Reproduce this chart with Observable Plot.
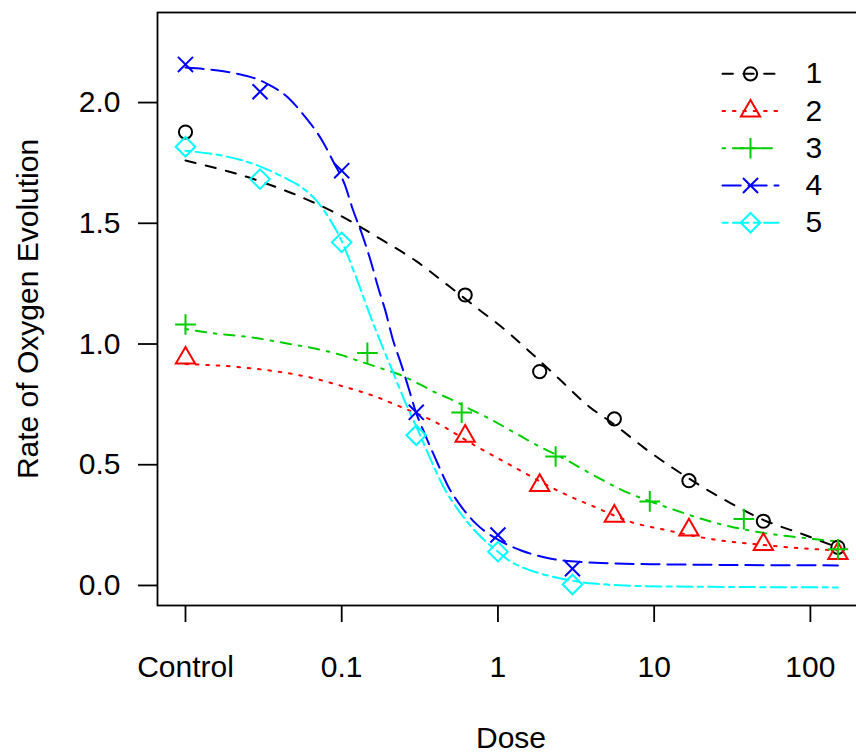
<!DOCTYPE html>
<html><head><meta charset="utf-8">
<script src="https://cdn.jsdelivr.net/npm/d3@7"></script>
<script src="https://cdn.jsdelivr.net/npm/@observablehq/plot@0.6"></script>
<style>
body{margin:0;background:#fff}
#wrap{width:856px;height:752px;overflow:hidden;position:relative}
#wrap svg{display:block;max-width:none !important}
</style>
</head><body><div id="wrap"></div>
<script>
// ---- data ----
const series = ["1", "2", "3", "4", "5"];
const colors = ["#000000", "#FF0000", "#00CD00", "#0000FF", "#00FFFF"];
const dashes = ["10.4,10.4", "2.6,7.8", "2.6,7.8,10.4,7.8", "18.2,7.8", "5.2,5.2,15.6,5.2"];
const symbols = ["circle", "triangle2", "plus", "times", "diamond2"];
const radii = [6.6, 9.2, 6.7, 6.9, 8.8];

const xTicks = [0.01, 0.1, 1, 10, 100];
const xTickLabels = ["Control", "0.1", "1", "10", "100"];
const yTicks = [0, 0.5, 1, 1.5, 2];
const controlAt = 0.01; // where "Control" (dose 0) is drawn

// observed points (dose 0 = control)
const dose12 = [0, 0.617, 1.85, 5.56, 16.7, 50, 150];
const dose3 = [0, 0.146, 0.586, 2.34, 9.375, 37.5, 150];
const dose45 = [0, 0.03, 0.1, 0.3, 1, 3];
const val1 = [1.878, 1.203, 0.886, 0.690, 0.434, 0.266, 0.158];
const val2 = [0.942, 0.618, 0.414, 0.287, 0.230, 0.170, 0.133];
const val3 = [1.081, 0.963, 0.716, 0.534, 0.348, 0.275, 0.150];
const val4 = [2.158, 2.045, 1.718, 0.717, 0.209, 0.069];
const val5 = [1.817, 1.683, 1.421, 0.622, 0.140, 0.004];

// fitted curves
const cDose1 = [0, 0.03, 0.1, 0.178, 0.3, 0.485, 0.78, 1, 1.63, 2.46, 3.78, 5.6, 8.63, 14, 31.2, 46.4, 94, 150];
const cVal1 = [1.760, 1.674, 1.529, 1.434, 1.343, 1.240, 1.136, 1.083, 0.963, 0.856, 0.744, 0.665, 0.570, 0.475, 0.339, 0.281, 0.207, 0.157];
const cDose2 = [0, 0.025, 0.064, 0.1, 0.16, 0.246, 0.383, 0.756, 1.16, 2.65, 4.13, 7.34, 11.6, 26.9, 40.1, 75.5, 150];
const cVal2 = [0.917, 0.901, 0.860, 0.826, 0.785, 0.736, 0.682, 0.570, 0.504, 0.380, 0.326, 0.260, 0.231, 0.186, 0.174, 0.157, 0.145];
const cDose3 = [0, 0.0149, 0.0281, 0.0431, 0.0652, 0.0986, 0.123, 0.183, 0.229, 0.312, 0.401, 0.478, 0.7, 0.863, 1.25, 1.80, 2.65, 3.83, 6.14, 12.8, 25.7, 48.5, 87.5, 150];
const cVal3 = [1.062, 1.045, 1.025, 1.004, 0.983, 0.955, 0.934, 0.897, 0.876, 0.835, 0.798, 0.777, 0.723, 0.694, 0.636, 0.579, 0.525, 0.467, 0.397, 0.318, 0.256, 0.219, 0.198, 0.182];
const cDose4 = [0, 0.0138, 0.0175, 0.0225, 0.029, 0.0341, 0.0451, 0.0571, 0.0755, 0.0889, 0.1045, 0.1177, 0.1364, 0.1535, 0.170, 0.1914, 0.212, 0.239, 0.269, 0.298, 0.340, 0.412, 0.485, 0.570, 0.723, 1, 1.41, 2.04, 2.95, 9.55, 150];
const cVal4 = [2.145, 2.138, 2.130, 2.116, 2.096, 2.074, 2.022, 1.948, 1.839, 1.752, 1.661, 1.558, 1.446, 1.343, 1.240, 1.132, 1.021, 0.921, 0.814, 0.719, 0.628, 0.504, 0.405, 0.335, 0.256, 0.190, 0.145, 0.115, 0.100, 0.088, 0.083];
const cDose5 = [0, 0.0178, 0.0288, 0.0427, 0.055, 0.0676, 0.0851, 0.0977, 0.123, 0.158, 0.182, 0.214, 0.251, 0.309, 0.372, 0.447, 0.575, 0.741, 1, 1.2, 1.41, 1.9, 2.4, 3.1, 4.1, 11.2, 150];
const cVal5 = [1.800, 1.778, 1.740, 1.690, 1.650, 1.600, 1.510, 1.440, 1.28, 1.09, 0.99, 0.88, 0.77, 0.64, 0.52, 0.41, 0.30, 0.215, 0.14, 0.10, 0.077, 0.048, 0.032, 0.018, 0.008, -0.004, -0.008];

// ---- build tables ----
const toRows = (ds, vs) => ds.map((d, i) => ({dose: d === 0 ? controlAt : d, value: vs[i]}));
const points = [
  toRows(dose12, val1), toRows(dose12, val2), toRows(dose3, val3),
  toRows(dose45, val4), toRows(dose45, val5)
];
const curves = [
  toRows(cDose1, cVal1), toRows(cDose2, cVal2), toRows(cDose3, cVal3),
  toRows(cDose4, cVal4), toRows(cDose5, cVal5)
];

// ---- layout ----
const W = 864, H = 752, ML = 157, MT = 12, MB = 147;
const xDomain = [0.00662, 222];
const yDomain = [-0.083, 2.373];
const FS = 30;
const xs = d3.scaleLog().domain(xDomain).range([ML, W]);
const ys = d3.scaleLinear().domain(yDomain).range([H - MB, MT]);

// legend (top right, inside the frame)
const legendMarks = [];
series.forEach((s, i) => {
  const yv = ys.invert(MT + 61.3 + i * 37.25);
  legendMarks.push(
    Plot.line([{x: xs.invert(722), y: yv}, {x: xs.invert(778), y: yv}],
      {x: "x", y: "y", stroke: colors[i], strokeWidth: 2, strokeDasharray: dashes[i]}),
    Plot.dot([{x: xs.invert(750), y: yv}],
      {x: "x", y: "y", symbol: symbols[i], r: radii[i], stroke: colors[i], strokeWidth: 2, fill: "none"}),
    Plot.text([{x: xs.invert(805), y: yv, t: s}],
      {x: "x", y: "y", text: "t", textAnchor: "start", fontSize: FS, fill: "black"})
  );
});

const chart = Plot.plot({
  width: W, height: H,
  marginLeft: ML, marginRight: 0, marginTop: MT, marginBottom: MB,
  style: {fontFamily: "'Liberation Sans', Arial, Helvetica, sans-serif", background: "white", color: "black", overflow: "hidden", maxWidth: "none"},
  x: {type: "log", domain: xDomain},
  y: {domain: yDomain},
  marks: [
    Plot.frame({stroke: "black", strokeWidth: 1.8}),
    Plot.axisX(xTicks, {tickFormat: d => xTickLabels[xTicks.indexOf(d)], tickSize: 17, tickPadding: 33, fontSize: FS, strokeWidth: 1.8, label: null}),
    Plot.axisY(yTicks, {tickFormat: d3.format(".1f"), tickSize: 19, tickPadding: 18, fontSize: FS, strokeWidth: 1.8, label: null}),
    Plot.text(["Dose"], {frameAnchor: "bottom", dy: 142, lineAnchor: "bottom", textAnchor: "middle", fontSize: FS, text: d => d, fill: "black"}),
    Plot.text(["Rate of Oxygen Evolution"], {frameAnchor: "left", dx: -120, rotate: -90, lineAnchor: "bottom", textAnchor: "middle", fontSize: FS, text: d => d, fill: "black"}),
    ...curves.map((c, i) => Plot.line(c, {x: "dose", y: "value", stroke: colors[i], strokeWidth: 2, strokeDasharray: dashes[i], curve: "monotone-x"})),
    ...points.map((p, i) => Plot.dot(p, {x: "dose", y: "value", symbol: symbols[i], r: radii[i], stroke: colors[i], strokeWidth: 2, fill: "none"})),
    ...legendMarks
  ]
});
chart.style.maxWidth = "none";
document.getElementById("wrap").appendChild(chart);
</script>
</body></html>
